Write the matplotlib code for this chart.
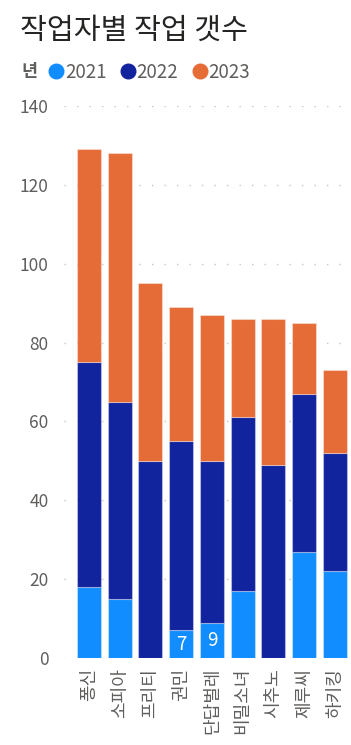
import numpy as np
import matplotlib.pyplot as plt
from matplotlib.lines import Line2D

plt.rcParams['font.family'] = ['Noto Sans CJK KR', 'DejaVu Sans']

# data
workers = ['퐁신', '소피아', '프리티', '권민', '단답벌레', '비밀소녀', '시추노', '제루씨', '하키킹']
y2021 = [18, 15, 0, 7, 9, 17, 0, 27, 22]
y2022 = [57, 50, 50, 48, 41, 44, 49, 40, 30]
y2023 = [54, 63, 45, 34, 37, 25, 37, 18, 21]
years = ['2021', '2022', '2023']
colors = ['#118DFF', '#12239E', '#E66C37']
shown_labels = {3: 7, 4: 9}  # only these data labels are visible in the picture

fig = plt.figure(figsize=(3.51, 7.45), dpi=100)
ax = fig.add_axes([64 / 351, 87 / 745, 285 / 351, 552 / 745])

x = np.arange(len(workers))
w = 0.78
bottom = np.zeros(len(workers))
for vals, c in zip([y2021, y2022, y2023], colors):
    ax.bar(x, vals, w, bottom=bottom, color=c, edgecolor=(1, 1, 1, 0.35), linewidth=0.8, zorder=3)
    bottom += np.array(vals)

for i, v in shown_labels.items():
    ax.text(i, v / 2, str(v), ha='center', va='center', color='white', fontsize=13.5, zorder=4)

ax.set_xlim(-0.81, 8.46)
ax.set_ylim(0, 140)
ax.set_yticks(range(0, 141, 20))
ax.set_xticks(x)
ax.set_xticklabels(workers, rotation=90, va='top', ha='center', fontweight='light')
for t in ax.get_yticklabels():
    t.set_fontweight('light')
ax.tick_params(axis='y', length=0, pad=11, labelsize=12.5, labelcolor='#605E5C')
ax.tick_params(axis='x', length=0, pad=7, labelsize=13, labelcolor='#605E5C')
ax.grid(axis='y', color='#C8C6C4', linestyle=(0, (1, 8)), linewidth=1, zorder=0)
for s in ax.spines.values():
    s.set_visible(False)

fig.text(20 / 351, 1 - 31 / 745, '작업자별 작업 갯수', fontsize=21, fontweight='light',
         color='#252423', va='center', ha='left')
fig.text(21 / 351, 1 - 72 / 745, '년', fontsize=12.5, fontweight='bold', color='#605E5C', va='center', ha='left')

handles = [Line2D([], [], marker='o', linestyle='none', markersize=10.5, color=c) for c in colors]
fig.legend(handles, years, loc='center left', bbox_to_anchor=(46 / 351, 1 - 72 / 745), ncol=3,
           frameon=False, handletextpad=-0.1, columnspacing=0.6, handlelength=1.1,
           labelcolor='#605E5C', borderaxespad=0, borderpad=0,
           prop={'weight': 'light', 'size': 13.5})

fig.savefig('out.png', dpi=100)
